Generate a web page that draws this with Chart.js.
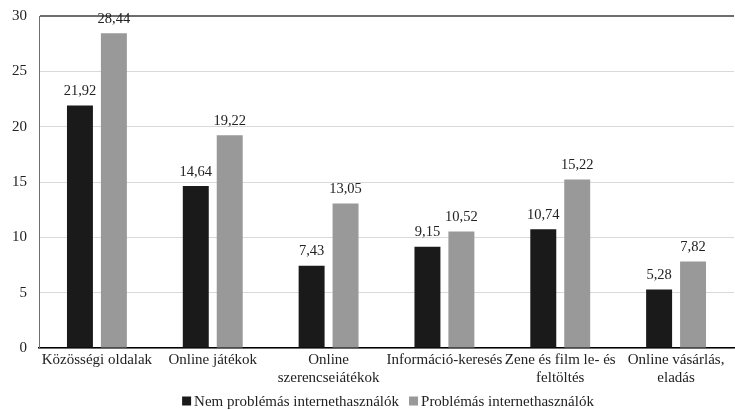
<!DOCTYPE html>
<html>
<head>
<meta charset="utf-8">
<script src="https://cdn.jsdelivr.net/npm/chart.js@4"></script>
<style>
  html, body { margin: 0; padding: 0; background: #fff; }
  #wrap { width: 735px; height: 410px; position: relative; }
</style>
</head>
<body>
<div id="wrap"><canvas id="chart"></canvas></div>
<script>
const categories = [
  "Közösségi oldalak",
  "Online játékok",
  ["Online", "szerencsejátékok"],
  "Információ-keresés",
  ["Zene és film le- és", "feltöltés"],
  ["Online vásárlás,", "eladás"]
];
const seriesNames = ["Nem problémás internethasználók", "Problémás internethasználók"];
const nemProblemas = [21.92, 14.64, 7.43, 9.15, 10.74, 5.28];
const problemas = [28.44, 19.22, 13.05, 10.52, 15.22, 7.82];
const yTicks = [0, 5, 10, 15, 20, 25, 30];

const FONT = "'Liberation Serif', 'DejaVu Serif', serif";

// value labels above each bar, decimal comma
const valueLabels = {
  id: "valueLabels",
  afterDatasetsDraw(chart) {
    const ctx = chart.ctx;
    ctx.save();
    ctx.font = "14.5px " + FONT;
    ctx.fillStyle = "#222";
    ctx.textAlign = "center";
    ctx.textBaseline = "bottom";
    chart.data.datasets.forEach((ds, i) => {
      chart.getDatasetMeta(i).data.forEach((bar, j) => {
        ctx.fillText(ds.data[j].toFixed(2).replace(".", ","), bar.x, bar.y - 7);
      });
    });
    ctx.restore();
  }
};

// compact legend row along the bottom edge
const bottomLegend = {
  id: "bottomLegend",
  afterDraw(chart) {
    const ctx = chart.ctx;
    const box = 9, gap = 3, itemGap = 10;
    const y = chart.height - 9;
    ctx.save();
    ctx.font = "15px " + FONT;
    ctx.textBaseline = "middle";
    ctx.textAlign = "left";
    const items = chart.data.datasets.map(ds => ({
      text: ds.label, color: ds.backgroundColor, w: ctx.measureText(ds.label).width
    }));
    const total = items.reduce((s, it) => s + box + gap + it.w, 0) + itemGap * (items.length - 1);
    let x = 388 - total / 2;
    items.forEach(it => {
      ctx.fillStyle = it.color;
      ctx.fillRect(x, y - box / 2, box, box);
      x += box + gap;
      ctx.fillStyle = "#222";
      ctx.fillText(it.text, x, y + 1);
      x += it.w + itemGap;
    });
    ctx.restore();
  }
};

new Chart(document.getElementById("chart"), {
  type: "bar",
  data: {
    labels: categories,
    datasets: [
      { label: seriesNames[0], data: nemProblemas, backgroundColor: "#1a1a1a",
        categoryPercentage: 0.586, barPercentage: 0.765 },
      { label: seriesNames[1], data: problemas, backgroundColor: "#999999",
        categoryPercentage: 0.586, barPercentage: 0.765 }
    ]
  },
  options: {
    responsive: true,
    maintainAspectRatio: false,
    animation: false,
    layout: { padding: { top: 16, right: 1, left: 0, bottom: 28 } },
    plugins: {
      legend: { display: false },
      tooltip: { enabled: false }
    },
    scales: {
      x: {
        grid: { display: false },
        border: { color: "#000", width: 1.5 },
        ticks: {
          font: { family: FONT, size: 15, lineHeight: 1.2 },
          color: "#222",
          maxRotation: 0,
          autoSkip: false,
          padding: -5
        }
      },
      y: {
        min: 0,
        max: 30,
        afterBuildTicks(axis) { axis.ticks = yTicks.map(v => ({ value: v })); },
        // let the layout padding alone decide where the plot starts
        afterFit(axis) { axis.paddingTop = 0; },
        grid: {
          color: c => c.tick && c.tick.value === 30 ? "#6e6e6e" : "#d9d9d9",
          lineWidth: c => c.tick && c.tick.value === 30 ? 2 : 1,
          drawTicks: false
        },
        border: { color: "#6e6e6e", width: 1 },
        ticks: {
          font: { family: FONT, size: 15 },
          color: "#222",
          padding: 12
        }
      }
    }
  },
  plugins: [valueLabels, bottomLegend]
});
</script>
</body>
</html>
